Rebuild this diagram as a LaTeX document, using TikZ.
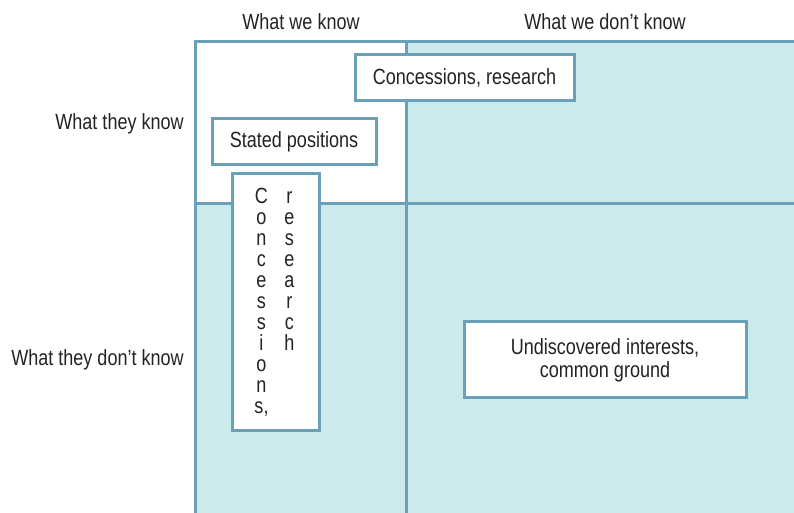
\documentclass[tikz,border=0pt]{standalone}
\usepackage{fontspec}
\setmainfont{Liberation Sans}[FakeStretch=0.82]
\begin{document}
\definecolor{gridline}{RGB}{106,160,184}
\definecolor{cellfill}{RGB}{205,234,235}
\definecolor{ink}{RGB}{35,35,35}
\begin{tikzpicture}[x=0.75pt,y=-0.75pt,
  lbl/.style={text=ink,font=\fontsize{16.5}{18}\selectfont,inner sep=0pt},
  card/.style={draw=gridline,line width=2.25pt,fill=white,text=ink,
    font=\fontsize{16.5}{18}\selectfont,align=center,inner sep=0pt},
  gl/.style={draw=gridline,line width=2.25pt}]
\useasboundingbox (0,0) rectangle (794,513);
% quadrant fills
\fill[white] (195,42) rectangle (406,204);
\fill[cellfill] (406,42) rectangle (794,513);
\fill[cellfill] (195,204) rectangle (406,513);
% grid lines
\coordinate (tl) at (195,42);
\coordinate (tr) at (794,42);
\coordinate (bl) at (195,513);
\coordinate (mt) at (406,42);
\coordinate (mb) at (406,513);
\coordinate (ml) at (195,204);
\coordinate (mr) at (794,204);
\draw[gl,line cap=rect] (bl) -- (tl) -- (tr);
\draw[gl] (mt) -- (mb);
\draw[gl] (ml) -- (mr);
% axis labels
\node[lbl] (wk) at (301,22) {What we know};
\node[lbl] (wdk) at (605,22) {What we don’t know};
\node[lbl,anchor=east] (tk) at (184,124) {What they know};
\node[lbl,anchor=east] (tdk) at (184,360) {What they don’t know};
% boxes
\node[card,minimum width={219*0.75pt},minimum height={46*0.75pt}] (cr) at (464.5,78) {Concessions, research};
\node[card,minimum width={164*0.75pt},minimum height={46*0.75pt}] (sp) at (294,142) {Stated positions};
\node[card,minimum width={282*0.75pt},minimum height={76*0.75pt},font=\fontsize{16.5}{17.25}\selectfont] (ui) at (605,360) {Undiscovered interests,\\common ground};
\node[card,minimum width={87*0.75pt},minimum height={257*0.75pt},font=\fontsize{16.5}{15.75}\selectfont] (vc) at (275.5,302.5) {%
\makebox[21pt]{C}\makebox[21pt]{r}\\
\makebox[21pt]{o}\makebox[21pt]{e}\\
\makebox[21pt]{n}\makebox[21pt]{s}\\
\makebox[21pt]{c}\makebox[21pt]{e}\\
\makebox[21pt]{e}\makebox[21pt]{a}\\
\makebox[21pt]{s}\makebox[21pt]{r}\\
\makebox[21pt]{s}\makebox[21pt]{c}\\
\makebox[21pt]{i}\makebox[21pt]{h}\\
\makebox[21pt]{o}\makebox[21pt]{}\\
\makebox[21pt]{n}\makebox[21pt]{}\\
\makebox[21pt]{s,}\makebox[21pt]{}};
\end{tikzpicture}
\end{document}
